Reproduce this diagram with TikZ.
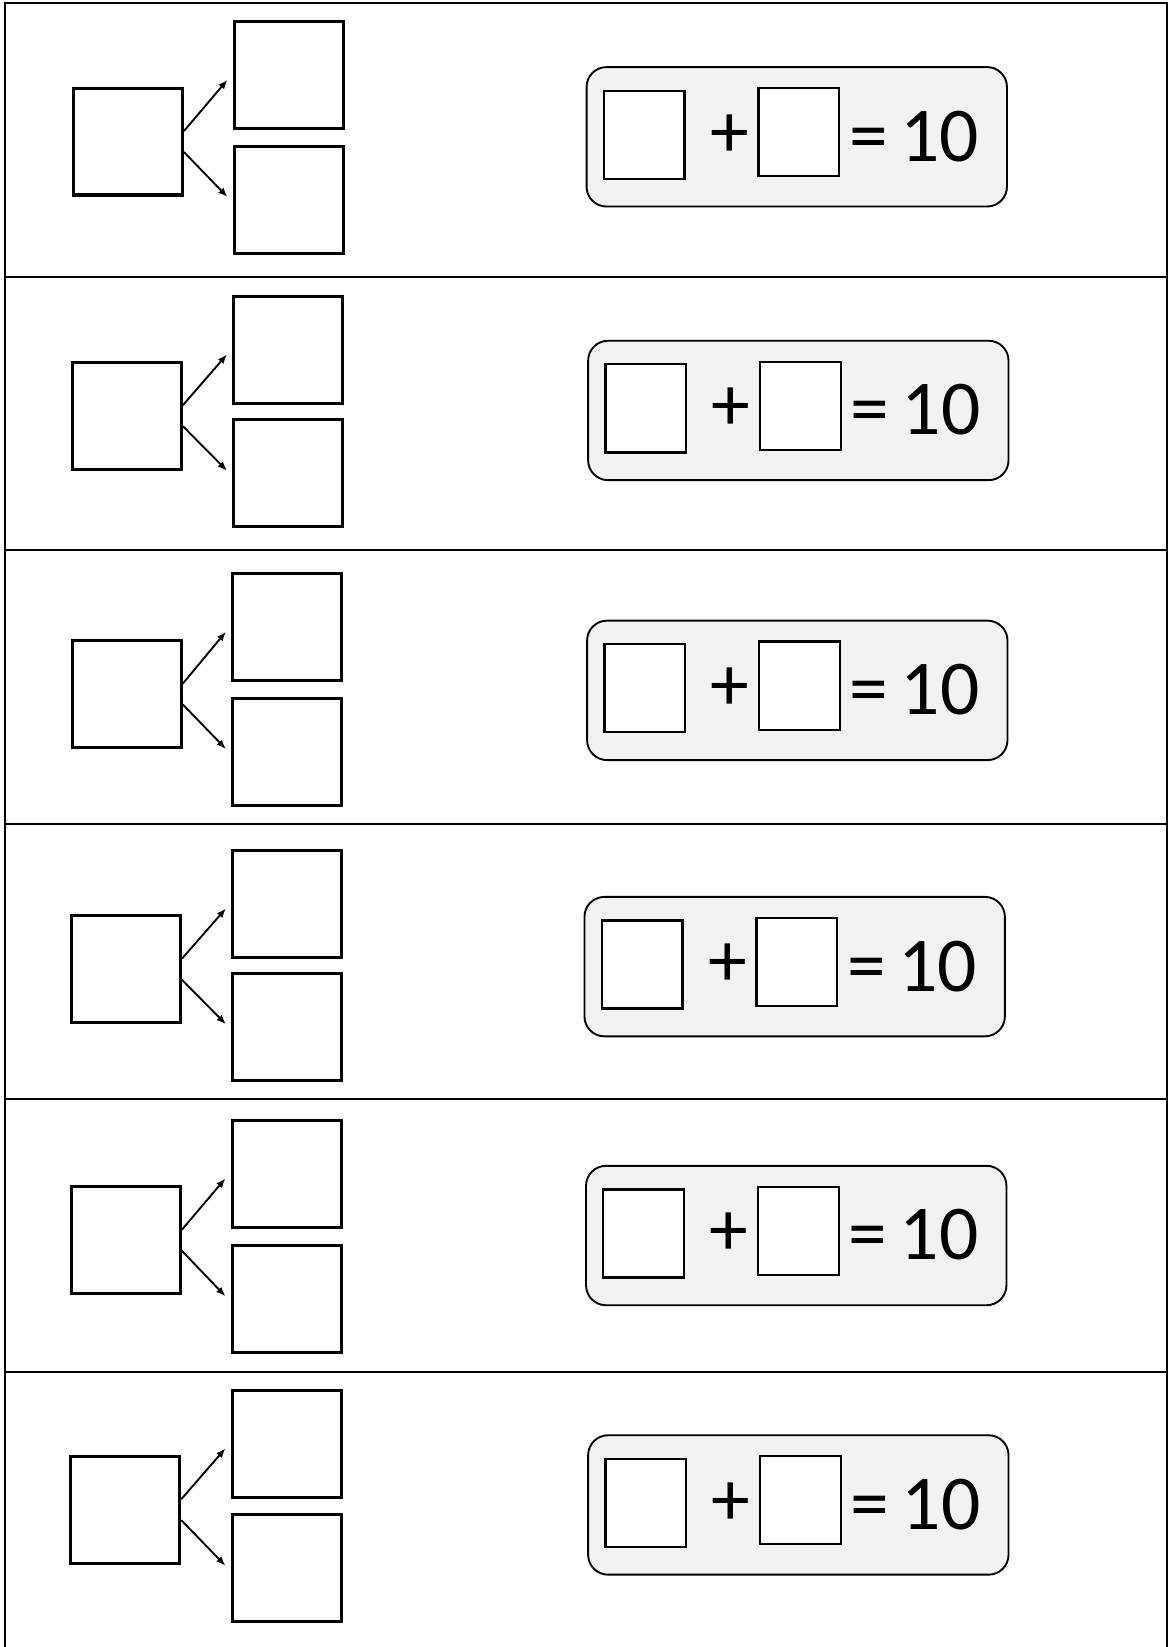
\documentclass[tikz,border=0pt]{standalone}
\usepackage{fontspec}
\setmainfont{Carlito}
\usetikzlibrary{calc,arrows.meta}
\definecolor{eqfill}{HTML}{F2F2F2}
\begin{document}
\begin{tikzpicture}[x=0.5pt,y=-0.5pt,
  bigbox/.style={draw=black,line width=1.45pt,minimum width=52pt,minimum height=51pt,inner sep=0pt,fill=white},
  eqbox/.style={draw=black,line width=0.9pt,fill=eqfill,rounded corners=9.5pt,minimum width=200.5pt,minimum height=66.5pt,inner sep=0pt},
  smallsq/.style={draw=black,line width=1.1pt,fill=white,minimum width=38.5pt,minimum height=42pt,inner sep=0pt},
  eqtext/.style={font=\fontsize{37pt}{42pt}\selectfont,inner sep=0pt},
  conn/.style={line width=0.9pt,-{Latex[length=4.5pt,width=3.5pt]}},
  rule/.style={line width=1pt,draw=black}]
\useasboundingbox (0,0) rectangle (1115,1571);
% frame and row separators
\draw[rule] (4.8,1571) -- (4.8,2.9) -- (1113.5,2.9) -- (1113.5,1571);
\foreach \yy in {264,525,786,1048,1309}{
  \draw[rule] (4.8,\yy) -- (1113.5,\yy);
}
\foreach \i/\lx/\ly/\rx/\rty/\rby/\ex/\ey in {
  1/122/135/275.5/71.5/190.5/760/130.5,
  2/121/396.5/275/333.5/451.5/761.5/391.5,
  3/121/662/274/598/717/760.5/658.5,
  4/120/924.5/274/862/979.5/758/922,
  5/120/1183/273.5/1119.5/1239/759.5/1178.5,
  6/119.5/1440/273.5/1377/1496/761.5/1435.5}{
  \node[bigbox] (L\i) at (\lx,\ly) {};
  \node[bigbox] (T\i) at (\rx,\rty) {};
  \node[bigbox] (B\i) at (\rx,\rby) {};
  \coordinate (ts\i) at ($(L\i.east)+(0,-10)$);
  \coordinate (bs\i) at ($(L\i.east)+(0,10)$);
  \coordinate (te\i) at ($(T\i.west)+(-5,4.5)$);
  \coordinate (be\i) at ($(B\i.west)+(-5,-2.5)$);
  \draw[conn] (ts\i) -- (te\i);
  \draw[conn] (bs\i) -- (be\i);
  \node[eqbox] (E\i) at (\ex,\ey) {};
  \node[smallsq] (P\i) at ($(E\i.center)+(-145.5,-2)$) {};
  \node[smallsq] (Q\i) at ($(E\i.center)+(2,-4.5)$) {};
  \node[eqtext] (plus\i) at ($(E\i.center)+(-64,-1)$) {+};
  \node[eqtext,anchor=west] (res\i) at ($(Q\i.east |- E\i.center)+(8,-0.5)$) {=\kern0.16em10};
}
\end{tikzpicture}
\end{document}
